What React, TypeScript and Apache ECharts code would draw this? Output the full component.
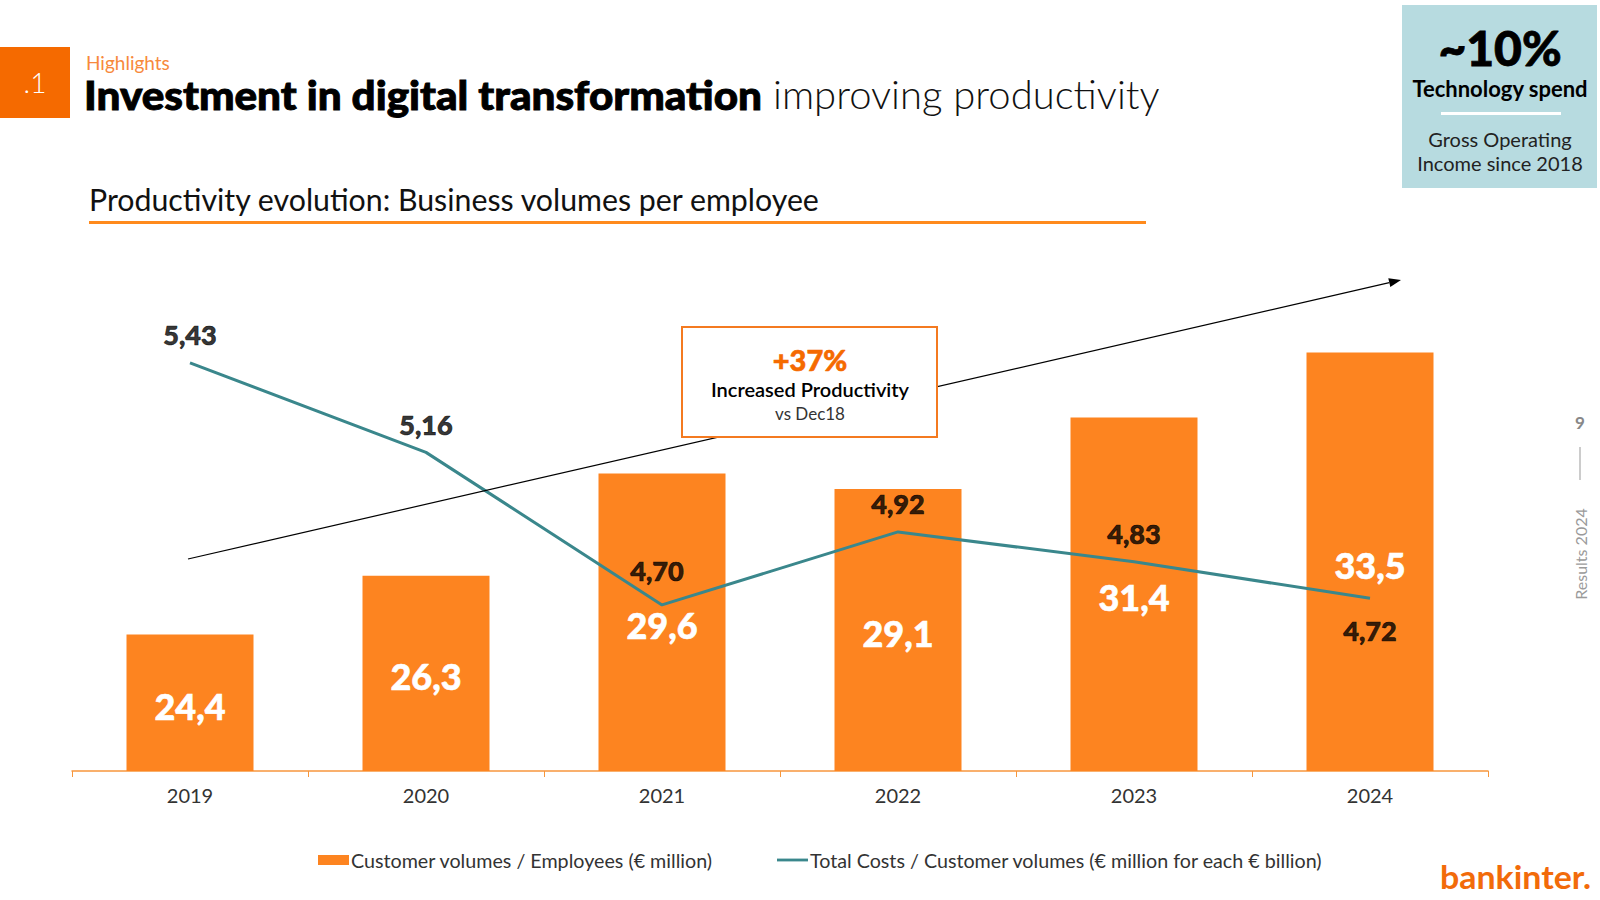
import React, { useEffect, useRef } from "react";
import * as echarts from "echarts";

const categories = ["2019", "2020", "2021", "2022", "2023", "2024"];
const volumesPerEmployee = [24.4, 26.3, 29.6, 29.1, 31.4, 33.5];
const costsPerVolume = [5.43, 5.16, 4.7, 4.92, 4.83, 4.72];
const seriesNames = [
  "Customer volumes / Employees (€ million)",
  "Total Costs / Customer volumes (€ million for each € billion)",
];

const FONT = "Lato, 'Noto Sans', sans-serif";
const ORANGE = "#FD8420";
const TEAL = "#3A878C";

const fmt = (v: number, d: number) => v.toFixed(d).replace(".", ",");

export default function App() {
  const ref = useRef<HTMLDivElement>(null);
  useEffect(() => {
    const chart = echarts.init(ref.current as HTMLDivElement, null, { renderer: "svg" });

    const labelData = costsPerVolume.map((v, i) => {
      const item: any = { value: v };
      if (i === 2) item.label = { distance: 20, offset: [-5, 0] };
      if (i === 5) item.label = { position: "bottom", distance: 18 };
      return item;
    });

    // arrow geometry
    const x1 = 188, y1 = 559, x2 = 1401, y2 = 280;
    const dx = x2 - x1, dy = y2 - y1;
    const len = Math.sqrt(dx * dx + dy * dy);
    const ux = dx / len, uy = dy / len;
    const hl = 12, hw = 4.5;
    const bx = x2 - hl * ux, by = y2 - hl * uy;
    const nx = -uy, ny = ux;

    const option: any = {
      animation: false,
      backgroundColor: "#ffffff",
      textStyle: { fontFamily: FONT },
      grid: { left: 72, right: 112, top: 271, bottom: 129 },
      legend: {
        left: 313,
        top: 845,
        itemGap: 64,
        itemWidth: 31,
        itemHeight: 10,
        textStyle: { fontFamily: FONT, fontSize: 19.7, color: "#333", padding: [0, 0, 0, -3] },
        data: [
          { name: seriesNames[0], icon: "rect" },
          { name: seriesNames[1], icon: "path://M0,0 H33 V3 H0 Z" },
        ],
      },
      xAxis: {
        type: "category",
        data: categories,
        axisLine: { lineStyle: { color: "#F7963C", width: 1.5 } },
        axisTick: { show: true, length: 6, lineStyle: { color: "#F7963C", width: 1 } },
        axisLabel: { color: "#333", fontSize: 20, fontFamily: FONT, margin: 14 },
        splitLine: { show: false },
      },
      yAxis: [
        { type: "value", min: 20, max: 36.13, show: false, splitLine: { show: false } },
        { type: "value", min: 4.199, max: 5.707, show: false, splitLine: { show: false } },
      ],
      series: [
        {
          name: seriesNames[0],
          type: "bar",
          yAxisIndex: 0,
          data: volumesPerEmployee,
          barWidth: 127,
          itemStyle: { color: ORANGE },
          label: {
            show: true,
            position: "inside",
            offset: [0, 3],
            color: "#fff",
            fontSize: 36,
            fontWeight: 900,
            fontFamily: FONT,
            textBorderColor: "#fff",
            textBorderWidth: 0.6,
            formatter: (p: any) => fmt(p.value, 1),
          },
          z: 2,
        },
        {
          name: seriesNames[1],
          type: "line",
          yAxisIndex: 1,
          data: costsPerVolume,
          symbol: "none",
          showSymbol: false,
          lineStyle: { color: TEAL, width: 3 },
          itemStyle: { color: TEAL },
          z: 3,
        },
        {
          name: "lineLabels",
          type: "scatter",
          yAxisIndex: 1,
          data: labelData,
          symbolSize: 1,
          itemStyle: { color: "rgba(0,0,0,0)" },
          silent: true,
          label: {
            show: true,
            position: "top",
            distance: 14,
            color: "#000",
            fontSize: 27,
            fontWeight: 900,
            fontFamily: FONT,
            textBorderColor: "#000",
            textBorderWidth: 0.7,
            formatter: (p: any) => fmt(typeof p.value === "number" ? p.value : p.data.value, 2),
          },
          z: 4,
        },
      ],
      graphic: [
        // header square
        { type: "rect", shape: { x: 0, y: 47, width: 70, height: 71 }, style: { fill: "#F56A00" } },
        {
          type: "text", x: 35, y: 82,
          style: { text: ".1", fill: "#fff", font: `300 28px ${FONT}`, align: "center", verticalAlign: "middle" },
        },
        {
          type: "text", x: 86, y: 62,
          style: { text: "Highlights", fill: "#F7893C", font: `400 19px ${FONT}`, verticalAlign: "middle" },
        },
        {
          type: "text", x: 84, y: 94, scaleX: 1.055,
          style: {
            text: "Investment in digital transformation", fill: "#000", stroke: "#000", lineWidth: 0.9,
            font: `900 40px ${FONT}`, verticalAlign: "middle",
          },
        },
        {
          type: "text", x: 773, y: 94,
          style: { text: "improving productivity", fill: "#111", font: `300 40px ${FONT}`, verticalAlign: "middle" },
        },
        // subtitle
        {
          type: "text", x: 89, y: 199, scaleX: 1.01,
          style: { text: "Productivity evolution: Business volumes per employee", fill: "#111", font: `400 30px ${FONT}`, verticalAlign: "middle" },
        },
        { type: "rect", shape: { x: 89, y: 221, width: 1057, height: 3 }, style: { fill: "#FF8A1C" } },
        // top-right box
        { type: "rect", shape: { x: 1402, y: 5, width: 195, height: 183 }, style: { fill: "#B7DBE0" } },
        {
          type: "text", x: 1500, y: 47,
          style: { text: "~10%", fill: "#000", stroke: "#000", lineWidth: 0.8, font: `900 48px ${FONT}`, align: "center", verticalAlign: "middle" },
        },
        {
          type: "text", x: 1500, y: 88,
          style: { text: "Technology spend", fill: "#000", font: `700 22px ${FONT}`, align: "center", verticalAlign: "middle" },
        },
        { type: "rect", shape: { x: 1441, y: 112, width: 120, height: 3 }, style: { fill: "#fff" } },
        {
          type: "text", x: 1500, y: 139,
          style: { text: "Gross Operating", fill: "#222", font: `400 20px ${FONT}`, align: "center", verticalAlign: "middle" },
        },
        {
          type: "text", x: 1500, y: 163,
          style: { text: "Income since 2018", fill: "#222", font: `400 20px ${FONT}`, align: "center", verticalAlign: "middle" },
        },
        // trend arrow
        {
          type: "line", z: 10,
          shape: { x1, y1, x2: bx, y2: by },
          style: { stroke: "#000", lineWidth: 1.2 },
        },
        {
          type: "polygon", z: 10,
          shape: { points: [[x2, y2], [bx + hw * nx, by + hw * ny], [bx - hw * nx, by - hw * ny]] },
          style: { fill: "#000" },
        },
        // annotation box
        {
          type: "rect", z: 11,
          shape: { x: 682, y: 327, width: 255, height: 110 },
          style: { fill: "#fff", stroke: "#F47A20", lineWidth: 2 },
        },
        {
          type: "text", z: 12, x: 810, y: 359,
          style: { text: "+37%", fill: "#F56A00", stroke: "#F56A00", lineWidth: 0.6, font: `900 29px ${FONT}`, align: "center", verticalAlign: "middle" },
        },
        {
          type: "text", z: 12, x: 810, y: 389,
          style: { text: "Increased Productivity", fill: "#000", font: `600 20px ${FONT}`, align: "center", verticalAlign: "middle" },
        },
        {
          type: "text", z: 12, x: 810, y: 413,
          style: { text: "vs Dec18", fill: "#333", font: `400 17px ${FONT}`, align: "center", verticalAlign: "middle" },
        },
        // right margin page info
        {
          type: "text", x: 1580, y: 422,
          style: { text: "9", fill: "#888", font: `700 17px ${FONT}`, align: "center", verticalAlign: "middle" },
        },
        { type: "line", shape: { x1: 1580, y1: 447, x2: 1580, y2: 480 }, style: { stroke: "#bbb", lineWidth: 1.5 } },
        {
          type: "text", x: 1580, y: 554, rotation: Math.PI / 2,
          style: { text: "Results 2024", fill: "#9a9a9a", font: `400 16px ${FONT}`, align: "center", verticalAlign: "middle" },
        },
        // logo
        {
          type: "text", x: 1440, y: 876, scaleX: 1.06,
          style: { text: "bankinter.", fill: "#F26B0A", font: `700 32px ${FONT}`, verticalAlign: "middle" },
        },
      ],
    };

    chart.setOption(option);
    return () => chart.dispose();
  }, []);

  return (
    <div
      ref={ref}
      style={{ position: "fixed", left: 0, top: 0, width: 1600, height: 900, background: "#fff" }}
    />
  );
}
